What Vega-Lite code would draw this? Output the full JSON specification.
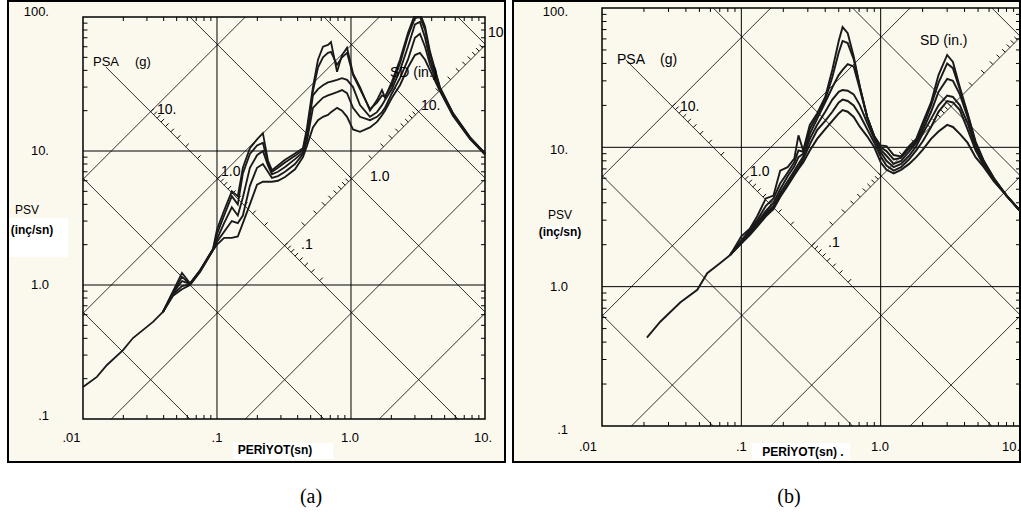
{
"$schema":"https://vega.github.io/schema/vega-lite/v6.json",
"background":"white",
"padding":{"left":7,"top":0,"right":0,"bottom":0},
"config":{"view":{"stroke":"black","strokeWidth":2,"fill":"#fbf8ee"}},
"datasets":{
"diag":[{"id":"a10","T":0.01,"v":6.145},{"id":"a10","T":0.1627,"v":100},{"id":"a1","T":0.01,"v":0.6145},{"id":"a1","T":1.627,"v":100},{"id":"a01","T":0.01627,"v":0.1},{"id":"a01","T":10,"v":61.45},{"id":"a001","T":0.1627,"v":0.1},{"id":"a001","T":10,"v":6.145},{"id":"a0001","T":1.627,"v":0.1},{"id":"a0001","T":10,"v":0.6145},{"id":"d0001","T":0.01,"v":0.6283},{"id":"d0001","T":0.06283,"v":0.1},{"id":"d001","T":0.01,"v":6.283},{"id":"d001","T":0.6283,"v":0.1},{"id":"d01","T":0.0148,"v":42.45},{"id":"d01","T":6.283,"v":0.1},{"id":"d1","T":0.06283,"v":100},{"id":"d1","T":10,"v":0.6283},{"id":"d10","T":0.6283,"v":100},{"id":"d10","T":10,"v":6.283},{"id":"d100","T":6.283,"v":100},{"id":"d100","T":10,"v":62.83}],
"psaTicks":[{"T":0.5838,"v":1.0762},{"T":0.5056,"v":1.2427},{"T":0.4522,"v":1.3894},{"T":0.4128,"v":1.522},{"T":0.3822,"v":1.6439},{"T":0.3575,"v":1.7575},{"T":0.3371,"v":1.8638},{"T":0.3198,"v":1.9647},{"T":0.2261,"v":2.7789},{"T":0.1846,"v":3.4035},{"T":0.1599,"v":3.9293},{"T":0.143,"v":4.3937},{"T":0.1305,"v":4.8146},{"T":0.1209,"v":5.1969},{"T":0.1131,"v":5.5553},{"T":0.1066,"v":5.894},{"T":0.10112,"v":6.2134},{"T":0.0715,"v":8.7874},{"T":0.05838,"v":10.762},{"T":0.05056,"v":12.427},{"T":0.04522,"v":13.894},{"T":0.04128,"v":15.22},{"T":0.03822,"v":16.439},{"T":0.03575,"v":17.575},{"T":0.03371,"v":18.638},{"T":0.03198,"v":19.647}],
"sdTicks":[{"T":0.4522,"v":2.779},{"T":0.5538,"v":3.403},{"T":0.6395,"v":3.93},{"T":0.715,"v":4.394},{"T":0.7832,"v":4.813},{"T":0.846,"v":5.199},{"T":0.9044,"v":5.558},{"T":0.9593,"v":5.895},{"T":1.0112,"v":6.214},{"T":1.43,"v":8.787},{"T":1.7514,"v":10.762},{"T":2.0223,"v":12.427},{"T":2.2611,"v":13.894},{"T":2.4769,"v":15.221},{"T":2.6753,"v":16.44},{"T":2.86,"v":17.575},{"T":3.0335,"v":18.641},{"T":3.1976,"v":19.649},{"T":4.5221,"v":27.788},{"T":5.5384,"v":34.034},{"T":6.3952,"v":39.299},{"T":7.1501,"v":43.937},{"T":7.8325,"v":48.131},{"T":8.46,"v":51.987},{"T":9.0442,"v":55.577},{"T":9.5928,"v":58.948}],
"ticksV":[{"v":0.2},{"v":0.3},{"v":0.4},{"v":0.5},{"v":0.6},{"v":0.7},{"v":0.8},{"v":0.9},{"v":2},{"v":3},{"v":4},{"v":5},{"v":6},{"v":7},{"v":8},{"v":9},{"v":20},{"v":30},{"v":40},{"v":50},{"v":60},{"v":70},{"v":80},{"v":90}],
"ticksT":[{"T":0.02},{"T":0.03},{"T":0.04},{"T":0.05},{"T":0.06},{"T":0.07},{"T":0.08},{"T":0.09},{"T":0.2},{"T":0.3},{"T":0.4},{"T":0.5},{"T":0.6},{"T":0.7},{"T":0.8},{"T":0.9},{"T":2},{"T":3},{"T":4},{"T":5},{"T":6},{"T":7},{"T":8},{"T":9}],
"curvesA":[
{"c":"c0","T":0.01,"v":0.173},{"c":"c0","T":0.0127,"v":0.206},{"c":"c0","T":0.0151,"v":0.253},{"c":"c0","T":0.0199,"v":0.327},{"c":"c0","T":0.0236,"v":0.402},{"c":"c0","T":0.0333,"v":0.53},{"c":"c0","T":0.0395,"v":0.629},
{"c":"c1","T":0.0395,"v":0.629},{"c":"c1","T":0.047,"v":0.9},{"c":"c1","T":0.0548,"v":1.23},{"c":"c1","T":0.0629,"v":1.03},{"c":"c1","T":0.0747,"v":1.29},{"c":"c1","T":0.0934,"v":1.86},{"c":"c1","T":0.1,"v":2.6},{"c":"c1","T":0.113,"v":3.6},{"c":"c1","T":0.129,"v":5.0},{"c":"c1","T":0.143,"v":4.6},{"c":"c1","T":0.156,"v":7.5},{"c":"c1","T":0.176,"v":10.5},{"c":"c1","T":0.199,"v":12.2},{"c":"c1","T":0.22,"v":13.6},{"c":"c1","T":0.24,"v":8.5},{"c":"c1","T":0.257,"v":7.2},{"c":"c1","T":0.285,"v":7.8},{"c":"c1","T":0.322,"v":8.6},{"c":"c1","T":0.382,"v":9.6},{"c":"c1","T":0.438,"v":10.5},{"c":"c1","T":0.47,"v":15},{"c":"c1","T":0.52,"v":30},{"c":"c1","T":0.567,"v":48},{"c":"c1","T":0.618,"v":60},{"c":"c1","T":0.673,"v":62},{"c":"c1","T":0.709,"v":65},{"c":"c1","T":0.787,"v":39},{"c":"c1","T":0.857,"v":52},{"c":"c1","T":0.934,"v":59},{"c":"c1","T":1.035,"v":38},{"c":"c1","T":1.167,"v":30},{"c":"c1","T":1.386,"v":20},{"c":"c1","T":1.563,"v":24},{"c":"c1","T":1.703,"v":28.5},{"c":"c1","T":1.793,"v":25},{"c":"c1","T":2.02,"v":33},{"c":"c1","T":2.32,"v":48},{"c":"c1","T":2.66,"v":76},{"c":"c1","T":2.95,"v":100},{"c":"c1","T":3.35,"v":100},{"c":"c1","T":3.57,"v":85},{"c":"c1","T":3.89,"v":55},{"c":"c1","T":4.61,"v":30},{"c":"c1","T":5.77,"v":19.2},{"c":"c1","T":7.72,"v":12.7},{"c":"c1","T":10,"v":9.6},
{"c":"c2","T":0.0395,"v":0.629},{"c":"c2","T":0.047,"v":0.88},{"c":"c2","T":0.0548,"v":1.15},{"c":"c2","T":0.0629,"v":1.02},{"c":"c2","T":0.0747,"v":1.28},{"c":"c2","T":0.0934,"v":1.85},{"c":"c2","T":0.1,"v":2.4},{"c":"c2","T":0.113,"v":3.3},{"c":"c2","T":0.129,"v":4.6},{"c":"c2","T":0.143,"v":4.0},{"c":"c2","T":0.156,"v":6.8},{"c":"c2","T":0.176,"v":9.5},{"c":"c2","T":0.199,"v":11},{"c":"c2","T":0.22,"v":11.5},{"c":"c2","T":0.24,"v":8.2},{"c":"c2","T":0.257,"v":7.0},{"c":"c2","T":0.285,"v":7.5},{"c":"c2","T":0.322,"v":8.2},{"c":"c2","T":0.382,"v":9.2},{"c":"c2","T":0.438,"v":10.2},{"c":"c2","T":0.47,"v":14},{"c":"c2","T":0.52,"v":28},{"c":"c2","T":0.567,"v":42},{"c":"c2","T":0.618,"v":50},{"c":"c2","T":0.673,"v":54},{"c":"c2","T":0.709,"v":55},{"c":"c2","T":0.787,"v":44},{"c":"c2","T":0.857,"v":50},{"c":"c2","T":0.934,"v":54},{"c":"c2","T":1.035,"v":37},{"c":"c2","T":1.167,"v":29},{"c":"c2","T":1.386,"v":20.5},{"c":"c2","T":1.563,"v":23},{"c":"c2","T":1.703,"v":26},{"c":"c2","T":1.793,"v":25.5},{"c":"c2","T":2.02,"v":31},{"c":"c2","T":2.32,"v":45},{"c":"c2","T":2.66,"v":72},{"c":"c2","T":3.0,"v":98},{"c":"c2","T":3.27,"v":100},{"c":"c2","T":3.57,"v":80},{"c":"c2","T":3.89,"v":53},{"c":"c2","T":4.61,"v":29.5},{"c":"c2","T":5.77,"v":19},{"c":"c2","T":7.72,"v":12.6},{"c":"c2","T":10,"v":9.6},
{"c":"c3","T":0.0395,"v":0.629},{"c":"c3","T":0.047,"v":0.87},{"c":"c3","T":0.0548,"v":1.07},{"c":"c3","T":0.0629,"v":1.02},{"c":"c3","T":0.0747,"v":1.27},{"c":"c3","T":0.0934,"v":1.84},{"c":"c3","T":0.1,"v":2.2},{"c":"c3","T":0.113,"v":2.9},{"c":"c3","T":0.129,"v":3.8},{"c":"c3","T":0.143,"v":3.3},{"c":"c3","T":0.156,"v":4.5},{"c":"c3","T":0.176,"v":7.5},{"c":"c3","T":0.199,"v":9.3},{"c":"c3","T":0.22,"v":10},{"c":"c3","T":0.24,"v":7.8},{"c":"c3","T":0.257,"v":6.7},{"c":"c3","T":0.285,"v":7.0},{"c":"c3","T":0.322,"v":7.6},{"c":"c3","T":0.382,"v":8.7},{"c":"c3","T":0.438,"v":9.8},{"c":"c3","T":0.47,"v":13},{"c":"c3","T":0.52,"v":26},{"c":"c3","T":0.567,"v":29},{"c":"c3","T":0.618,"v":31},{"c":"c3","T":0.673,"v":32.5},{"c":"c3","T":0.709,"v":33},{"c":"c3","T":0.787,"v":34},{"c":"c3","T":0.857,"v":35},{"c":"c3","T":0.934,"v":34},{"c":"c3","T":1.035,"v":30},{"c":"c3","T":1.167,"v":22},{"c":"c3","T":1.386,"v":18},{"c":"c3","T":1.563,"v":19.5},{"c":"c3","T":1.703,"v":22},{"c":"c3","T":1.793,"v":24},{"c":"c3","T":2.02,"v":29},{"c":"c3","T":2.32,"v":40},{"c":"c3","T":2.66,"v":60},{"c":"c3","T":3.0,"v":88},{"c":"c3","T":3.27,"v":92},{"c":"c3","T":3.57,"v":70},{"c":"c3","T":3.89,"v":48},{"c":"c3","T":4.61,"v":29},{"c":"c3","T":5.77,"v":18.8},{"c":"c3","T":7.72,"v":12.5},{"c":"c3","T":10,"v":9.5},
{"c":"c4","T":0.0395,"v":0.629},{"c":"c4","T":0.047,"v":0.85},{"c":"c4","T":0.0548,"v":0.98},{"c":"c4","T":0.0629,"v":1.01},{"c":"c4","T":0.0747,"v":1.26},{"c":"c4","T":0.0934,"v":1.83},{"c":"c4","T":0.1,"v":2.1},{"c":"c4","T":0.113,"v":2.5},{"c":"c4","T":0.129,"v":3.0},{"c":"c4","T":0.143,"v":2.9},{"c":"c4","T":0.156,"v":3.3},{"c":"c4","T":0.176,"v":5.5},{"c":"c4","T":0.199,"v":7.5},{"c":"c4","T":0.22,"v":8},{"c":"c4","T":0.24,"v":7},{"c":"c4","T":0.257,"v":6.3},{"c":"c4","T":0.285,"v":6.5},{"c":"c4","T":0.322,"v":7.0},{"c":"c4","T":0.382,"v":8.0},{"c":"c4","T":0.438,"v":9.5},{"c":"c4","T":0.47,"v":12},{"c":"c4","T":0.52,"v":21},{"c":"c4","T":0.567,"v":23},{"c":"c4","T":0.618,"v":25},{"c":"c4","T":0.673,"v":26},{"c":"c4","T":0.709,"v":26.5},{"c":"c4","T":0.787,"v":27.5},{"c":"c4","T":0.857,"v":28.5},{"c":"c4","T":0.934,"v":27},{"c":"c4","T":1.035,"v":21},{"c":"c4","T":1.167,"v":18},{"c":"c4","T":1.386,"v":17},{"c":"c4","T":1.563,"v":18},{"c":"c4","T":1.703,"v":19.5},{"c":"c4","T":1.793,"v":21},{"c":"c4","T":2.02,"v":27},{"c":"c4","T":2.32,"v":35},{"c":"c4","T":2.66,"v":48},{"c":"c4","T":3.0,"v":70},{"c":"c4","T":3.27,"v":75},{"c":"c4","T":3.57,"v":60},{"c":"c4","T":3.89,"v":44},{"c":"c4","T":4.61,"v":28.5},{"c":"c4","T":5.77,"v":18.5},{"c":"c4","T":7.72,"v":12.4},{"c":"c4","T":10,"v":9.5},
{"c":"c5","T":0.0395,"v":0.629},{"c":"c5","T":0.047,"v":0.83},{"c":"c5","T":0.0548,"v":0.93},{"c":"c5","T":0.0629,"v":1.0},{"c":"c5","T":0.0747,"v":1.25},{"c":"c5","T":0.0934,"v":1.82},{"c":"c5","T":0.1,"v":2.0},{"c":"c5","T":0.113,"v":2.25},{"c":"c5","T":0.129,"v":2.25},{"c":"c5","T":0.143,"v":2.3},{"c":"c5","T":0.156,"v":2.9},{"c":"c5","T":0.176,"v":4.0},{"c":"c5","T":0.199,"v":5.6},{"c":"c5","T":0.22,"v":5.9},{"c":"c5","T":0.24,"v":5.9},{"c":"c5","T":0.257,"v":5.9},{"c":"c5","T":0.285,"v":6.0},{"c":"c5","T":0.322,"v":6.4},{"c":"c5","T":0.382,"v":7.3},{"c":"c5","T":0.438,"v":9.0},{"c":"c5","T":0.47,"v":11},{"c":"c5","T":0.52,"v":15},{"c":"c5","T":0.567,"v":17},{"c":"c5","T":0.618,"v":18},{"c":"c5","T":0.673,"v":18.6},{"c":"c5","T":0.709,"v":19.5},{"c":"c5","T":0.787,"v":21},{"c":"c5","T":0.857,"v":20},{"c":"c5","T":0.934,"v":18},{"c":"c5","T":1.035,"v":14.5},{"c":"c5","T":1.167,"v":13.9},{"c":"c5","T":1.386,"v":15},{"c":"c5","T":1.563,"v":16.5},{"c":"c5","T":1.703,"v":18.5},{"c":"c5","T":1.793,"v":20},{"c":"c5","T":2.02,"v":25},{"c":"c5","T":2.32,"v":31},{"c":"c5","T":2.66,"v":42},{"c":"c5","T":3.0,"v":52},{"c":"c5","T":3.27,"v":54},{"c":"c5","T":3.57,"v":48},{"c":"c5","T":3.89,"v":40},{"c":"c5","T":4.61,"v":28},{"c":"c5","T":5.77,"v":18.3},{"c":"c5","T":7.72,"v":12.3},{"c":"c5","T":10,"v":9.4}
],
"curvesB":[
{"c":"d0","T":0.021,"v":0.43},{"c":"d0","T":0.0262,"v":0.56},{"c":"d0","T":0.0364,"v":0.77},{"c":"d0","T":0.0483,"v":0.95},{"c":"d0","T":0.0569,"v":1.25},{"c":"d0","T":0.0706,"v":1.48},{"c":"d0","T":0.0832,"v":1.69},
{"c":"d1","T":0.0832,"v":1.69},{"c":"d1","T":0.1,"v":2.3},{"c":"d1","T":0.115,"v":2.6},{"c":"d1","T":0.13,"v":3.2},{"c":"d1","T":0.15,"v":4.3},{"c":"d1","T":0.17,"v":4.5},{"c":"d1","T":0.19,"v":6.8},{"c":"d1","T":0.215,"v":7.2},{"c":"d1","T":0.24,"v":8.3},{"c":"d1","T":0.257,"v":12.2},{"c":"d1","T":0.278,"v":9.5},{"c":"d1","T":0.31,"v":14.5},{"c":"d1","T":0.35,"v":17.5},{"c":"d1","T":0.4,"v":23},{"c":"d1","T":0.45,"v":36},{"c":"d1","T":0.5,"v":58},{"c":"d1","T":0.533,"v":73},{"c":"d1","T":0.58,"v":66},{"c":"d1","T":0.64,"v":45},{"c":"d1","T":0.71,"v":27},{"c":"d1","T":0.8,"v":16.5},{"c":"d1","T":0.9,"v":12},{"c":"d1","T":1.0,"v":10.3},{"c":"d1","T":1.1,"v":10.2},{"c":"d1","T":1.24,"v":8.8},{"c":"d1","T":1.4,"v":8.6},{"c":"d1","T":1.6,"v":10.2},{"c":"d1","T":1.8,"v":11.5},{"c":"d1","T":2.0,"v":15},{"c":"d1","T":2.3,"v":21},{"c":"d1","T":2.6,"v":33},{"c":"d1","T":3.0,"v":46},{"c":"d1","T":3.3,"v":41},{"c":"d1","T":3.7,"v":27},{"c":"d1","T":4.2,"v":17.6},{"c":"d1","T":4.8,"v":11},{"c":"d1","T":5.5,"v":8.0},{"c":"d1","T":6.5,"v":6.0},{"c":"d1","T":8,"v":4.5},{"c":"d1","T":10,"v":3.5},
{"c":"d2","T":0.0832,"v":1.69},{"c":"d2","T":0.1,"v":2.15},{"c":"d2","T":0.115,"v":2.55},{"c":"d2","T":0.13,"v":3.0},{"c":"d2","T":0.15,"v":3.8},{"c":"d2","T":0.17,"v":4.3},{"c":"d2","T":0.19,"v":5.5},{"c":"d2","T":0.215,"v":6.6},{"c":"d2","T":0.24,"v":7.8},{"c":"d2","T":0.257,"v":9.5},{"c":"d2","T":0.278,"v":9.3},{"c":"d2","T":0.31,"v":13.5},{"c":"d2","T":0.35,"v":17},{"c":"d2","T":0.4,"v":22},{"c":"d2","T":0.45,"v":32},{"c":"d2","T":0.5,"v":48},{"c":"d2","T":0.533,"v":58},{"c":"d2","T":0.58,"v":56},{"c":"d2","T":0.64,"v":43},{"c":"d2","T":0.71,"v":27},{"c":"d2","T":0.8,"v":16.5},{"c":"d2","T":0.9,"v":12},{"c":"d2","T":1.0,"v":10},{"c":"d2","T":1.1,"v":9.4},{"c":"d2","T":1.24,"v":8.2},{"c":"d2","T":1.4,"v":8.4},{"c":"d2","T":1.6,"v":9.8},{"c":"d2","T":1.8,"v":11.2},{"c":"d2","T":2.0,"v":14},{"c":"d2","T":2.3,"v":20},{"c":"d2","T":2.6,"v":29},{"c":"d2","T":3.0,"v":40},{"c":"d2","T":3.3,"v":37},{"c":"d2","T":3.7,"v":26},{"c":"d2","T":4.2,"v":17.3},{"c":"d2","T":4.8,"v":10.8},{"c":"d2","T":5.5,"v":7.9},{"c":"d2","T":6.5,"v":6.0},{"c":"d2","T":8,"v":4.5},{"c":"d2","T":10,"v":3.5},
{"c":"d3","T":0.0832,"v":1.69},{"c":"d3","T":0.1,"v":2.1},{"c":"d3","T":0.115,"v":2.5},{"c":"d3","T":0.13,"v":2.9},{"c":"d3","T":0.15,"v":3.5},{"c":"d3","T":0.17,"v":4.0},{"c":"d3","T":0.19,"v":5.0},{"c":"d3","T":0.215,"v":6.2},{"c":"d3","T":0.24,"v":7.3},{"c":"d3","T":0.257,"v":8.5},{"c":"d3","T":0.278,"v":9.0},{"c":"d3","T":0.31,"v":12.5},{"c":"d3","T":0.35,"v":16},{"c":"d3","T":0.4,"v":21},{"c":"d3","T":0.45,"v":27},{"c":"d3","T":0.5,"v":33},{"c":"d3","T":0.533,"v":36},{"c":"d3","T":0.58,"v":39.5},{"c":"d3","T":0.64,"v":38},{"c":"d3","T":0.71,"v":26},{"c":"d3","T":0.8,"v":16.5},{"c":"d3","T":0.9,"v":11.8},{"c":"d3","T":1.0,"v":9.6},{"c":"d3","T":1.1,"v":8.7},{"c":"d3","T":1.24,"v":7.6},{"c":"d3","T":1.4,"v":8.0},{"c":"d3","T":1.6,"v":9.3},{"c":"d3","T":1.8,"v":10.8},{"c":"d3","T":2.0,"v":13.2},{"c":"d3","T":2.3,"v":18},{"c":"d3","T":2.6,"v":25},{"c":"d3","T":3.0,"v":31},{"c":"d3","T":3.3,"v":30},{"c":"d3","T":3.7,"v":24},{"c":"d3","T":4.2,"v":16.5},{"c":"d3","T":4.8,"v":10.5},{"c":"d3","T":5.5,"v":7.8},{"c":"d3","T":6.5,"v":5.9},{"c":"d3","T":8,"v":4.5},{"c":"d3","T":10,"v":3.5},
{"c":"d4","T":0.0832,"v":1.69},{"c":"d4","T":0.1,"v":2.1},{"c":"d4","T":0.115,"v":2.45},{"c":"d4","T":0.13,"v":2.8},{"c":"d4","T":0.15,"v":3.4},{"c":"d4","T":0.17,"v":3.8},{"c":"d4","T":0.19,"v":4.7},{"c":"d4","T":0.215,"v":5.7},{"c":"d4","T":0.24,"v":6.8},{"c":"d4","T":0.257,"v":7.6},{"c":"d4","T":0.278,"v":8.6},{"c":"d4","T":0.31,"v":11.5},{"c":"d4","T":0.35,"v":14.5},{"c":"d4","T":0.4,"v":18},{"c":"d4","T":0.45,"v":22},{"c":"d4","T":0.5,"v":25},{"c":"d4","T":0.533,"v":25.8},{"c":"d4","T":0.58,"v":25.5},{"c":"d4","T":0.64,"v":24},{"c":"d4","T":0.71,"v":20},{"c":"d4","T":0.8,"v":15},{"c":"d4","T":0.9,"v":11.5},{"c":"d4","T":1.0,"v":9.2},{"c":"d4","T":1.1,"v":8.0},{"c":"d4","T":1.24,"v":7.2},{"c":"d4","T":1.4,"v":7.6},{"c":"d4","T":1.6,"v":8.7},{"c":"d4","T":1.8,"v":10.2},{"c":"d4","T":2.0,"v":12.5},{"c":"d4","T":2.3,"v":16},{"c":"d4","T":2.6,"v":20},{"c":"d4","T":3.0,"v":23.5},{"c":"d4","T":3.3,"v":23},{"c":"d4","T":3.7,"v":20},{"c":"d4","T":4.2,"v":15},{"c":"d4","T":4.8,"v":10},{"c":"d4","T":5.5,"v":7.6},{"c":"d4","T":6.5,"v":5.85},{"c":"d4","T":8,"v":4.5},{"c":"d4","T":10,"v":3.5},
{"c":"d5","T":0.0832,"v":1.69},{"c":"d5","T":0.1,"v":2.05},{"c":"d5","T":0.115,"v":2.4},{"c":"d5","T":0.13,"v":2.75},{"c":"d5","T":0.15,"v":3.3},{"c":"d5","T":0.17,"v":3.7},{"c":"d5","T":0.19,"v":4.5},{"c":"d5","T":0.215,"v":5.4},{"c":"d5","T":0.24,"v":6.5},{"c":"d5","T":0.257,"v":7.2},{"c":"d5","T":0.278,"v":8.2},{"c":"d5","T":0.31,"v":10.5},{"c":"d5","T":0.35,"v":13.3},{"c":"d5","T":0.4,"v":15.5},{"c":"d5","T":0.45,"v":18},{"c":"d5","T":0.5,"v":21},{"c":"d5","T":0.533,"v":22},{"c":"d5","T":0.58,"v":21.5},{"c":"d5","T":0.64,"v":20},{"c":"d5","T":0.71,"v":17},{"c":"d5","T":0.8,"v":13.5},{"c":"d5","T":0.9,"v":10.8},{"c":"d5","T":1.0,"v":8.6},{"c":"d5","T":1.1,"v":7.4},{"c":"d5","T":1.24,"v":6.8},{"c":"d5","T":1.4,"v":7.2},{"c":"d5","T":1.6,"v":8.2},{"c":"d5","T":1.8,"v":9.5},{"c":"d5","T":2.0,"v":11},{"c":"d5","T":2.3,"v":14},{"c":"d5","T":2.6,"v":18},{"c":"d5","T":3.0,"v":21.5},{"c":"d5","T":3.3,"v":21},{"c":"d5","T":3.7,"v":18.5},{"c":"d5","T":4.2,"v":13.5},{"c":"d5","T":4.8,"v":9.5},{"c":"d5","T":5.5,"v":7.4},{"c":"d5","T":6.5,"v":5.8},{"c":"d5","T":8,"v":4.5},{"c":"d5","T":10,"v":3.5},
{"c":"d6","T":0.0832,"v":1.69},{"c":"d6","T":0.1,"v":2.05},{"c":"d6","T":0.115,"v":2.35},{"c":"d6","T":0.13,"v":2.7},{"c":"d6","T":0.15,"v":3.2},{"c":"d6","T":0.17,"v":3.6},{"c":"d6","T":0.19,"v":4.4},{"c":"d6","T":0.215,"v":5.3},{"c":"d6","T":0.24,"v":6.3},{"c":"d6","T":0.257,"v":7.0},{"c":"d6","T":0.278,"v":7.8},{"c":"d6","T":0.31,"v":9.5},{"c":"d6","T":0.35,"v":11.5},{"c":"d6","T":0.4,"v":13.5},{"c":"d6","T":0.45,"v":15.5},{"c":"d6","T":0.5,"v":17.5},{"c":"d6","T":0.533,"v":18.5},{"c":"d6","T":0.58,"v":18},{"c":"d6","T":0.64,"v":16.5},{"c":"d6","T":0.71,"v":14},{"c":"d6","T":0.8,"v":12},{"c":"d6","T":0.9,"v":10},{"c":"d6","T":1.0,"v":7.8},{"c":"d6","T":1.1,"v":6.9},{"c":"d6","T":1.24,"v":6.5},{"c":"d6","T":1.4,"v":6.9},{"c":"d6","T":1.6,"v":7.6},{"c":"d6","T":1.8,"v":8.5},{"c":"d6","T":2.0,"v":9.6},{"c":"d6","T":2.3,"v":11.5},{"c":"d6","T":2.6,"v":13},{"c":"d6","T":3.0,"v":14.5},{"c":"d6","T":3.3,"v":14},{"c":"d6","T":3.7,"v":12.5},{"c":"d6","T":4.2,"v":10.8},{"c":"d6","T":4.8,"v":8.5},{"c":"d6","T":5.5,"v":7.2},{"c":"d6","T":6.5,"v":5.7},{"c":"d6","T":8,"v":4.5},{"c":"d6","T":10,"v":3.5}
]
},
"spacing":6,
"hconcat":[
{
"width":497,"height":461,
"layer":[
{"data":{"values":[{"x":0.002805,"x2":0.007727,"y":3.162,"y2":1.618},{"x":0.1316,"x2":0.7337,"y":0.06622,"y2":0.05029}]},"mark":{"type":"rect","fill":"white"},"encoding":{"x":{"field":"x","type":"quantitative","scale":{"type":"log","domain":[0.002757,14.1],"nice":false},"axis":null},"x2":{"field":"x2"},"y":{"field":"y","type":"quantitative","scale":{"type":"log","domain":[0.04776,131.7],"nice":false},"axis":null},"y2":{"field":"y2"}}},
{"data":{"values":[{}]},"mark":{"type":"rect","filled":false,"stroke":"black","strokeWidth":1.5},"encoding":{"x":{"datum":0.01,"type":"quantitative","scale":{"type":"log","domain":[0.002757,14.1],"nice":false},"axis":null},"x2":{"datum":10},"y":{"datum":0.1,"type":"quantitative","scale":{"type":"log","domain":[0.04776,131.7],"nice":false},"axis":null},"y2":{"datum":100}}},
{"data":{"values":[{"x":0.1},{"x":1}]},"mark":{"type":"rule","color":"black","strokeWidth":1},"encoding":{"x":{"field":"x","type":"quantitative","scale":{"type":"log","domain":[0.002757,14.1],"nice":false},"axis":null},"y":{"datum":0.1,"type":"quantitative","scale":{"type":"log","domain":[0.04776,131.7],"nice":false},"axis":null},"y2":{"datum":100}}},
{"data":{"values":[{"y":1},{"y":10}]},"mark":{"type":"rule","color":"black","strokeWidth":1},"encoding":{"y":{"field":"y","type":"quantitative","scale":{"type":"log","domain":[0.04776,131.7],"nice":false},"axis":null},"x":{"datum":0.01,"type":"quantitative","scale":{"type":"log","domain":[0.002757,14.1],"nice":false},"axis":null},"x2":{"datum":10}}},
{"data":{"name":"diag"},"mark":{"type":"line","color":"black","strokeWidth":0.8},"encoding":{"x":{"field":"T","type":"quantitative","scale":{"type":"log","domain":[0.002757,14.1],"nice":false},"axis":null},"y":{"field":"v","type":"quantitative","scale":{"type":"log","domain":[0.04776,131.7],"nice":false},"axis":null},"detail":{"field":"id"}}},
{"data":{"name":"psaTicks"},"mark":{"type":"point","shape":"M0,0L0.8,-0.8","size":60,"filled":false,"stroke":"black","strokeWidth":1,"opacity":1},"encoding":{"x":{"field":"T","type":"quantitative","scale":{"type":"log","domain":[0.002757,14.1],"nice":false},"axis":null},"y":{"field":"v","type":"quantitative","scale":{"type":"log","domain":[0.04776,131.7],"nice":false},"axis":null}}},
{"data":{"name":"sdTicks"},"mark":{"type":"point","shape":"M0,0L-0.8,-0.8","size":60,"filled":false,"stroke":"black","strokeWidth":1,"opacity":1},"encoding":{"x":{"field":"T","type":"quantitative","scale":{"type":"log","domain":[0.002757,14.1],"nice":false},"axis":null},"y":{"field":"v","type":"quantitative","scale":{"type":"log","domain":[0.04776,131.7],"nice":false},"axis":null}}},
{"data":{"name":"ticksV"},"mark":{"type":"point","shape":"M0,0L1,0","size":81,"filled":false,"stroke":"black","strokeWidth":1,"opacity":1},"encoding":{"x":{"datum":0.01,"type":"quantitative","scale":{"type":"log","domain":[0.002757,14.1],"nice":false},"axis":null},"y":{"field":"v","type":"quantitative","scale":{"type":"log","domain":[0.04776,131.7],"nice":false},"axis":null}}},
{"data":{"name":"ticksV"},"mark":{"type":"point","shape":"M0,0L-1,0","size":64,"filled":false,"stroke":"black","strokeWidth":1,"opacity":1},"encoding":{"x":{"datum":10,"type":"quantitative","scale":{"type":"log","domain":[0.002757,14.1],"nice":false},"axis":null},"y":{"field":"v","type":"quantitative","scale":{"type":"log","domain":[0.04776,131.7],"nice":false},"axis":null}}},
{"data":{"name":"ticksT"},"mark":{"type":"point","shape":"M0,0L0,-1","size":64,"filled":false,"stroke":"black","strokeWidth":1,"opacity":1},"encoding":{"y":{"datum":0.1,"type":"quantitative","scale":{"type":"log","domain":[0.04776,131.7],"nice":false},"axis":null},"x":{"field":"T","type":"quantitative","scale":{"type":"log","domain":[0.002757,14.1],"nice":false},"axis":null}}},
{"data":{"name":"ticksT"},"mark":{"type":"point","shape":"M0,0L0,1","size":64,"filled":false,"stroke":"black","strokeWidth":1,"opacity":1},"encoding":{"y":{"datum":100,"type":"quantitative","scale":{"type":"log","domain":[0.04776,131.7],"nice":false},"axis":null},"x":{"field":"T","type":"quantitative","scale":{"type":"log","domain":[0.002757,14.1],"nice":false},"axis":null}}},
{"data":{"name":"curvesA"},"mark":{"type":"line","color":"#1a1a1a","clip":true},"encoding":{"x":{"field":"T","type":"quantitative","scale":{"type":"log","domain":[0.002757,14.1],"nice":false},"axis":null},"y":{"field":"v","type":"quantitative","scale":{"type":"log","domain":[0.04776,131.7],"nice":false},"axis":null},"detail":{"field":"c"},"strokeWidth":{"field":"c","type":"ordinal","scale":{"domain":["c0","c1","c2","c3","c4","c5"],"range":[1.8,2,1.6,1.1,1.1,1.1]},"legend":null}}},
{"data":{"values":[{"t":".01","T":0.008207,"v":0.0721},{"t":".1","T":0.1,"v":0.0721},{"t":"1.0","T":0.9831,"v":0.0721},{"t":"10.","T":9.66,"v":0.0721}]},"mark":{"type":"text","align":"center","baseline":"middle","font":"Liberation Sans","fontSize":13,"color":"black"},"encoding":{"x":{"field":"T","type":"quantitative","scale":{"type":"log","domain":[0.002757,14.1],"nice":false},"axis":null},"y":{"field":"v","type":"quantitative","scale":{"type":"log","domain":[0.04776,131.7],"nice":false},"axis":null},"text":{"field":"t"}}},
{"data":{"values":[{"t":"100.","T":0.005575,"v":108.9},{"t":"10.","T":0.005575,"v":10},{"t":"1.0","T":0.005575,"v":1},{"t":".1","T":0.005575,"v":0.1053}]},"mark":{"type":"text","align":"right","baseline":"middle","font":"Liberation Sans","fontSize":13,"color":"black"},"encoding":{"x":{"field":"T","type":"quantitative","scale":{"type":"log","domain":[0.002757,14.1],"nice":false},"axis":null},"y":{"field":"v","type":"quantitative","scale":{"type":"log","domain":[0.04776,131.7],"nice":false},"axis":null},"text":{"field":"t"}}},
{"data":{"values":[{"t":"PSA","T":0.01188,"v":46.15},{"t":"(g)","T":0.02443,"v":46.15}]},"mark":{"type":"text","align":"left","baseline":"middle","font":"Liberation Sans","fontSize":13,"color":"black"},"encoding":{"x":{"field":"T","type":"quantitative","scale":{"type":"log","domain":[0.002757,14.1],"nice":false},"axis":null},"y":{"field":"v","type":"quantitative","scale":{"type":"log","domain":[0.04776,131.7],"nice":false},"axis":null},"text":{"field":"t"}}},
{"data":{"values":[{"t":"SD (in.)","T":1.954,"v":38.2},{"t":"10.","T":0.03566,"v":20.23},{"t":"1.0","T":0.1071,"v":6.97},{"t":".1","T":0.4235,"v":1.988},{"t":"1.0","T":1.386,"v":6.4},{"t":"10.","T":3.33,"v":21.67},{"t":"10","T":10.53,"v":75.96}]},"mark":{"type":"text","align":"left","baseline":"middle","font":"Liberation Sans","fontSize":14,"color":"black"},"encoding":{"x":{"field":"T","type":"quantitative","scale":{"type":"log","domain":[0.002757,14.1],"nice":false},"axis":null},"y":{"field":"v","type":"quantitative","scale":{"type":"log","domain":[0.04776,131.7],"nice":false},"axis":null},"text":{"field":"t"}}},
{"data":{"values":[{"t":"PSV","T":0.00382,"v":3.63}]},"mark":{"type":"text","align":"center","baseline":"middle","font":"Liberation Sans","fontSize":12,"color":"black"},"encoding":{"x":{"field":"T","type":"quantitative","scale":{"type":"log","domain":[0.002757,14.1],"nice":false},"axis":null},"y":{"field":"v","type":"quantitative","scale":{"type":"log","domain":[0.04776,131.7],"nice":false},"axis":null},"text":{"field":"t"}}},
{"data":{"values":[{"t":"(inç/sn)","T":0.004163,"v":2.572},{"t":"PERİYOT(sn)","T":0.2709,"v":0.05871}]},"mark":{"type":"text","align":"center","baseline":"middle","font":"Liberation Sans","fontSize":12,"fontWeight":"bold","color":"black"},"encoding":{"x":{"field":"T","type":"quantitative","scale":{"type":"log","domain":[0.002757,14.1],"nice":false},"axis":null},"y":{"field":"v","type":"quantitative","scale":{"type":"log","domain":[0.04776,131.7],"nice":false},"axis":null},"text":{"field":"t"}}},
{"data":{"values":[{"t":"(a)","T":0.5029,"v":0.02618}]},"mark":{"type":"text","align":"center","baseline":"middle","font":"Liberation Serif","fontSize":20,"color":"black"},"encoding":{"x":{"field":"T","type":"quantitative","scale":{"type":"log","domain":[0.002757,14.1],"nice":false},"axis":null},"y":{"field":"v","type":"quantitative","scale":{"type":"log","domain":[0.04776,131.7],"nice":false},"axis":null},"text":{"field":"t"}}}
]
},
{
"width":507,"height":461,
"layer":[
{"data":{"values":[{"x":0.003771,"x2":0.006725,"y":2.725,"y2":2.198},{"x":0.1193,"x2":0.6026,"y":0.07551,"y2":0.05701}]},"mark":{"type":"rect","fill":"white"},"encoding":{"x":{"field":"x","type":"quantitative","scale":{"type":"log","domain":[0.002297,10],"nice":false},"axis":null},"x2":{"field":"x2"},"y":{"field":"y","type":"quantitative","scale":{"type":"log","domain":[0.05514,112.26],"nice":false},"axis":null},"y2":{"field":"y2"}}},
{"data":{"values":[{}]},"mark":{"type":"rect","filled":false,"stroke":"black","strokeWidth":1.5},"encoding":{"x":{"datum":0.01,"type":"quantitative","scale":{"type":"log","domain":[0.002297,10],"nice":false},"axis":null},"x2":{"datum":10},"y":{"datum":0.1,"type":"quantitative","scale":{"type":"log","domain":[0.05514,112.26],"nice":false},"axis":null},"y2":{"datum":100}}},
{"data":{"values":[{"x":0.1},{"x":1}]},"mark":{"type":"rule","color":"black","strokeWidth":1},"encoding":{"x":{"field":"x","type":"quantitative","scale":{"type":"log","domain":[0.002297,10],"nice":false},"axis":null},"y":{"datum":0.1,"type":"quantitative","scale":{"type":"log","domain":[0.05514,112.26],"nice":false},"axis":null},"y2":{"datum":100}}},
{"data":{"values":[{"y":1},{"y":10}]},"mark":{"type":"rule","color":"black","strokeWidth":1},"encoding":{"y":{"field":"y","type":"quantitative","scale":{"type":"log","domain":[0.05514,112.26],"nice":false},"axis":null},"x":{"datum":0.01,"type":"quantitative","scale":{"type":"log","domain":[0.002297,10],"nice":false},"axis":null},"x2":{"datum":10}}},
{"data":{"name":"diag"},"mark":{"type":"line","color":"black","strokeWidth":0.8},"encoding":{"x":{"field":"T","type":"quantitative","scale":{"type":"log","domain":[0.002297,10],"nice":false},"axis":null},"y":{"field":"v","type":"quantitative","scale":{"type":"log","domain":[0.05514,112.26],"nice":false},"axis":null},"detail":{"field":"id"}}},
{"data":{"name":"psaTicks"},"mark":{"type":"point","shape":"M0,0L0.8,-0.8","size":60,"filled":false,"stroke":"black","strokeWidth":1,"opacity":1},"encoding":{"x":{"field":"T","type":"quantitative","scale":{"type":"log","domain":[0.002297,10],"nice":false},"axis":null},"y":{"field":"v","type":"quantitative","scale":{"type":"log","domain":[0.05514,112.26],"nice":false},"axis":null}}},
{"data":{"name":"sdTicks"},"mark":{"type":"point","shape":"M0,0L-0.8,-0.8","size":60,"filled":false,"stroke":"black","strokeWidth":1,"opacity":1},"encoding":{"x":{"field":"T","type":"quantitative","scale":{"type":"log","domain":[0.002297,10],"nice":false},"axis":null},"y":{"field":"v","type":"quantitative","scale":{"type":"log","domain":[0.05514,112.26],"nice":false},"axis":null}}},
{"data":{"name":"ticksV"},"mark":{"type":"point","shape":"M0,0L1,0","size":81,"filled":false,"stroke":"black","strokeWidth":1,"opacity":1},"encoding":{"x":{"datum":0.01,"type":"quantitative","scale":{"type":"log","domain":[0.002297,10],"nice":false},"axis":null},"y":{"field":"v","type":"quantitative","scale":{"type":"log","domain":[0.05514,112.26],"nice":false},"axis":null}}},
{"data":{"name":"ticksV"},"mark":{"type":"point","shape":"M0,0L-1,0","size":64,"filled":false,"stroke":"black","strokeWidth":1,"opacity":1},"encoding":{"x":{"datum":10,"type":"quantitative","scale":{"type":"log","domain":[0.002297,10],"nice":false},"axis":null},"y":{"field":"v","type":"quantitative","scale":{"type":"log","domain":[0.05514,112.26],"nice":false},"axis":null}}},
{"data":{"name":"ticksT"},"mark":{"type":"point","shape":"M0,0L0,-1","size":64,"filled":false,"stroke":"black","strokeWidth":1,"opacity":1},"encoding":{"y":{"datum":0.1,"type":"quantitative","scale":{"type":"log","domain":[0.05514,112.26],"nice":false},"axis":null},"x":{"field":"T","type":"quantitative","scale":{"type":"log","domain":[0.002297,10],"nice":false},"axis":null}}},
{"data":{"name":"ticksT"},"mark":{"type":"point","shape":"M0,0L0,1","size":64,"filled":false,"stroke":"black","strokeWidth":1,"opacity":1},"encoding":{"y":{"datum":100,"type":"quantitative","scale":{"type":"log","domain":[0.05514,112.26],"nice":false},"axis":null},"x":{"field":"T","type":"quantitative","scale":{"type":"log","domain":[0.002297,10],"nice":false},"axis":null}}},
{"data":{"name":"curvesB"},"mark":{"type":"line","color":"#1a1a1a","clip":true},"encoding":{"x":{"field":"T","type":"quantitative","scale":{"type":"log","domain":[0.002297,10],"nice":false},"axis":null},"y":{"field":"v","type":"quantitative","scale":{"type":"log","domain":[0.05514,112.26],"nice":false},"axis":null},"detail":{"field":"c"},"strokeWidth":{"field":"c","type":"ordinal","scale":{"domain":["d0","d1","d2","d3","d4","d5","d6"],"range":[1.8,1.7,1.5,1.2,1.1,1.1,1.0]},"legend":null}}},
{"data":{"values":[{"t":".01","T":0.007936,"v":0.07066},{"t":".1","T":0.1,"v":0.07066},{"t":"1.0","T":0.989,"v":0.07066},{"t":"10.","T":8.619,"v":0.07066}]},"mark":{"type":"text","align":"center","baseline":"middle","font":"Liberation Sans","fontSize":13,"color":"black"},"encoding":{"x":{"field":"T","type":"quantitative","scale":{"type":"log","domain":[0.002297,10],"nice":false},"axis":null},"y":{"field":"v","type":"quantitative","scale":{"type":"log","domain":[0.05514,112.26],"nice":false},"axis":null},"text":{"field":"t"}}},
{"data":{"values":[{"t":"100.","T":0.005702,"v":93.6},{"t":"10.","T":0.005702,"v":9.5},{"t":"1.0","T":0.005702,"v":1},{"t":".1","T":0.005702,"v":0.0936}]},"mark":{"type":"text","align":"right","baseline":"middle","font":"Liberation Sans","fontSize":13,"color":"black"},"encoding":{"x":{"field":"T","type":"quantitative","scale":{"type":"log","domain":[0.002297,10],"nice":false},"axis":null},"y":{"field":"v","type":"quantitative","scale":{"type":"log","domain":[0.05514,112.26],"nice":false},"axis":null},"text":{"field":"t"}}},
{"data":{"values":[{"t":"PSA","T":0.01281,"v":42.34},{"t":"(g)","T":0.02608,"v":42.34},{"t":"SD (in.)","T":1.916,"v":57.5},{"t":"10.","T":0.03629,"v":19.48},{"t":"1.0","T":0.1154,"v":6.65},{"t":".1","T":0.4188,"v":2.057}]},"mark":{"type":"text","align":"left","baseline":"middle","font":"Liberation Sans","fontSize":14,"color":"black"},"encoding":{"x":{"field":"T","type":"quantitative","scale":{"type":"log","domain":[0.002297,10],"nice":false},"axis":null},"y":{"field":"v","type":"quantitative","scale":{"type":"log","domain":[0.05514,112.26],"nice":false},"axis":null},"text":{"field":"t"}}},
{"data":{"values":[{"t":"PSV","T":0.004995,"v":3.268}]},"mark":{"type":"text","align":"center","baseline":"middle","font":"Liberation Sans","fontSize":12,"color":"black"},"encoding":{"x":{"field":"T","type":"quantitative","scale":{"type":"log","domain":[0.002297,10],"nice":false},"axis":null},"y":{"field":"v","type":"quantitative","scale":{"type":"log","domain":[0.05514,112.26],"nice":false},"axis":null},"text":{"field":"t"}}},
{"data":{"values":[{"t":"(inç/sn)","T":0.004995,"v":2.468},{"t":"PERİYOT(sn) .","T":0.2771,"v":0.06508}]},"mark":{"type":"text","align":"center","baseline":"middle","font":"Liberation Sans","fontSize":12,"fontWeight":"bold","color":"black"},"encoding":{"x":{"field":"T","type":"quantitative","scale":{"type":"log","domain":[0.002297,10],"nice":false},"axis":null},"y":{"field":"v","type":"quantitative","scale":{"type":"log","domain":[0.05514,112.26],"nice":false},"axis":null},"text":{"field":"t"}}},
{"data":{"values":[{"t":"(b)","T":0.2198,"v":0.03093}]},"mark":{"type":"text","align":"center","baseline":"middle","font":"Liberation Serif","fontSize":20,"color":"black"},"encoding":{"x":{"field":"T","type":"quantitative","scale":{"type":"log","domain":[0.002297,10],"nice":false},"axis":null},"y":{"field":"v","type":"quantitative","scale":{"type":"log","domain":[0.05514,112.26],"nice":false},"axis":null},"text":{"field":"t"}}}
]
}
]
}
